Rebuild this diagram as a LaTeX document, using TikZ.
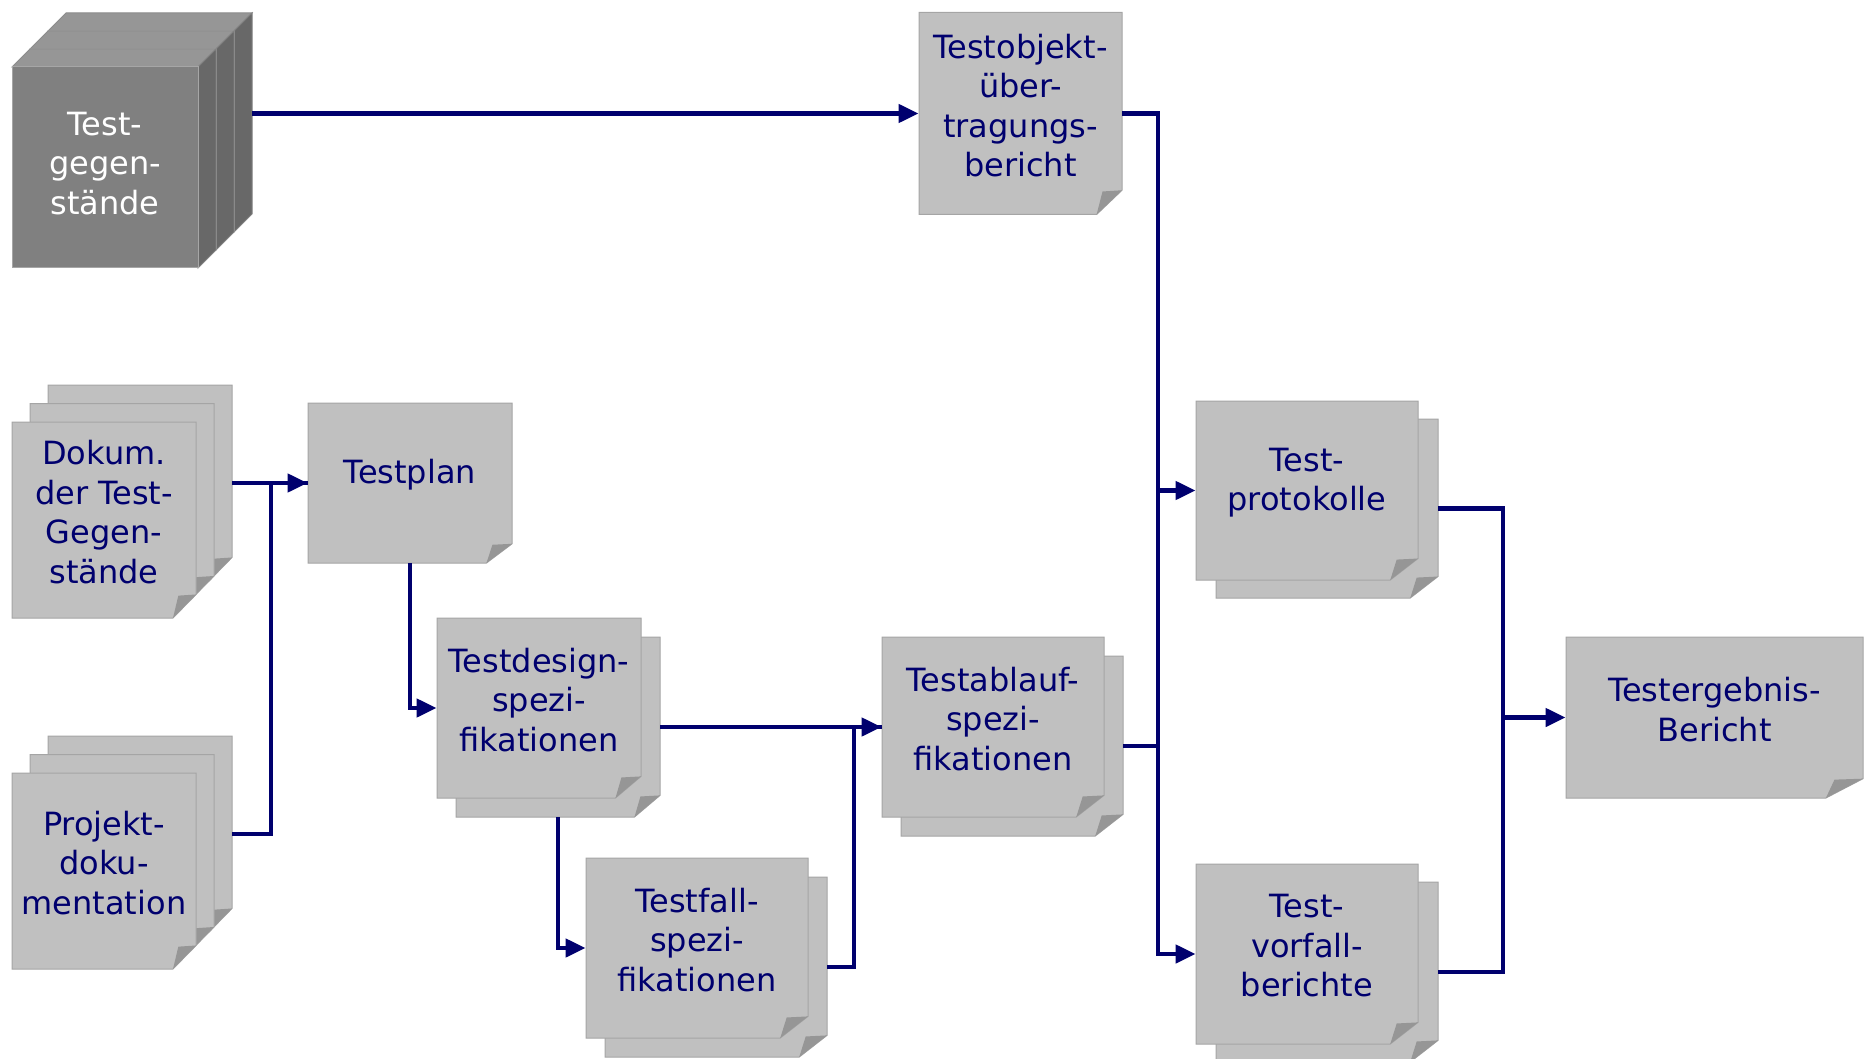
\documentclass[tikz,border=0pt]{standalone}
\usepackage{fontspec}
\setmainfont{DejaVu Sans}
\usetikzlibrary{arrows.meta,calc}

\definecolor{dunkelblau}{RGB}{0,0,110}
\definecolor{blattgrau}{RGB}{192,192,192}
\definecolor{blattrand}{RGB}{165,165,165}
\definecolor{knickgrau}{RGB}{150,150,150}
\definecolor{wuerfelvorn}{RGB}{128,128,128}
\definecolor{wuerfelseite}{RGB}{104,104,104}
\definecolor{wuerfeloben}{RGB}{150,150,150}

% ein Blatt mit Eselsohr: Name, Mitte x, Mitte y, Breite, Hoehe, Text
\newcommand{\blatt}[6]{%
  \filldraw[blatt] ({#2-#4/2},{#3-#5/2}) -- ++(#4,0) -- ++(0,{0.88*#5})
    -- ++({-0.125*#4},{0.12*#5}) -- ({#2-#4/2},{#3+#5/2}) -- cycle;
  \fill[knickgrau] ({#2+#4/2},{#3+0.38*#5}) -- ++({-0.096*#4},{0.006*#5})
    -- ({#2+0.375*#4},{#3+#5/2}) -- cycle;
  \node[inner sep=0pt, minimum width={#4*0.5pt}, minimum height={#5*0.5pt}] (#1) at (#2,#3) {};
  \node[blatttext, yshift=4pt] (#1-text) at (#1) {#6};
}

\begin{document}
\begin{tikzpicture}[x=0.5pt, y=-0.5pt,
    blatt/.style={fill=blattgrau, draw=blattrand, line width=0.5pt},
    blatttext/.style={inner sep=0pt, align=center, text=dunkelblau,
      font=\fontsize{16}{19.75}\selectfont},
    linie/.style={draw=dunkelblau, line width=2.2pt},
    pfeil/.style={linie, -{Triangle[length=10pt,width=9pt]}}]
  \useasboundingbox (0,0) rectangle (1864,1059);

  % Testgegenstaende als Stapel von Wuerfeln
  \foreach \i in {2,1,0} {
    \filldraw[fill=wuerfeloben, draw=gray!90, line width=0.5pt]
      ({12+18*\i},{67-18*\i}) -- ++(18,-18) -- ++(186,0) -- ++(-18,18) -- cycle;
    \filldraw[fill=wuerfelseite, draw=gray, line width=0.5pt]
      ({198+18*\i},{67-18*\i}) -- ++(18,-18) -- ++(0,201) -- ++(-18,18) -- cycle;
    \filldraw[fill=wuerfelvorn, draw=gray!70, line width=0.5pt]
      ({12+18*\i},{67-18*\i}) rectangle ++(186,201);
  }
  \node[inner sep=0pt, minimum width=93pt, minimum height=100.5pt] (gegen-3) at (159,113.5) {};
  \node[inner sep=0pt, minimum width=93pt, minimum height=100.5pt] (gegen) at (105,167.5) {};
  \node[blatttext, text=white, yshift=2pt] (gegen-text) at (gegen) {Test-\\gegen-\\stände};

  \blatt{objekt}{1020.5}{113.5}{203}{202}{Testobjekt-\\über-\\tragungs-\\bericht}

  \blatt{dokum-3}{140}{483}{184}{196}{}
  \blatt{dokum-2}{122}{501.5}{184}{196}{}
  \blatt{dokum}{104}{520}{184}{196}{Dokum.\\der Test-\\Gegen-\\stände}

  \blatt{projekt-3}{140}{834}{184}{196}{}
  \blatt{projekt-2}{122}{852.5}{184}{196}{}
  \blatt{projekt}{104}{871}{184}{196}{Projekt-\\doku-\\mentation}

  \blatt{testplan}{410}{483}{204}{160}{Testplan}

  \blatt{design-2}{558}{727}{204}{180}{}
  \blatt{design}{539}{708}{204}{180}{Testdesign-\\spezi-\\fikationen}

  \blatt{fall-2}{716}{967}{222}{180}{}
  \blatt{fall}{697}{948}{222}{180}{Testfall-\\spezi-\\fikationen}

  \blatt{ablauf-2}{1012}{746}{222}{180}{}
  \blatt{ablauf}{993}{727}{222}{180}{Testablauf-\\spezi-\\fikationen}

  \blatt{protokolle-2}{1327}{508.5}{222}{179}{}
  \blatt{protokolle}{1307}{490.5}{222}{179}{Test-\\protokolle}

  \blatt{vorfall-2}{1327}{972}{222}{180}{}
  \blatt{vorfall}{1307}{954}{222}{180}{Test-\\vorfall-\\berichte}

  \blatt{ergebnis}{1714.5}{717.5}{297}{161}{Testergebnis-\\Bericht}

  % Sammelpunkte der Leitungen
  \coordinate (bus1) at (271,834);
  \coordinate (bus2) at (854,967);
  \coordinate (bus3) at (1158,954);
  \coordinate (bus4) at (1503,972);

  \draw[pfeil] (gegen-3.east) -- (objekt.west);

  \draw[pfeil] (dokum-3.east) -- (testplan.west);
  \draw[linie] (projekt-3.east) -- (bus1) |- (testplan.west);

  \draw[pfeil] (testplan.south) |- (design.west);
  \draw[pfeil] (design-2.south) |- (fall.west);
  \draw[pfeil] (design-2.east) -- (ablauf.west);
  \draw[linie] (fall-2.east) -- (bus2) |- (ablauf.west);

  \draw[pfeil] (objekt.east) -| (bus3) -- (vorfall.west);
  \draw[pfeil] (protokolle.west -| bus3) -- (protokolle.west);
  \draw[linie] (ablauf-2.east) -- (ablauf-2.east -| bus3);

  \draw[linie] (protokolle-2.east) -| (bus4) -- (vorfall-2.east);
  \draw[pfeil] (ergebnis.west -| bus4) -- (ergebnis.west);
\end{tikzpicture}
\end{document}
